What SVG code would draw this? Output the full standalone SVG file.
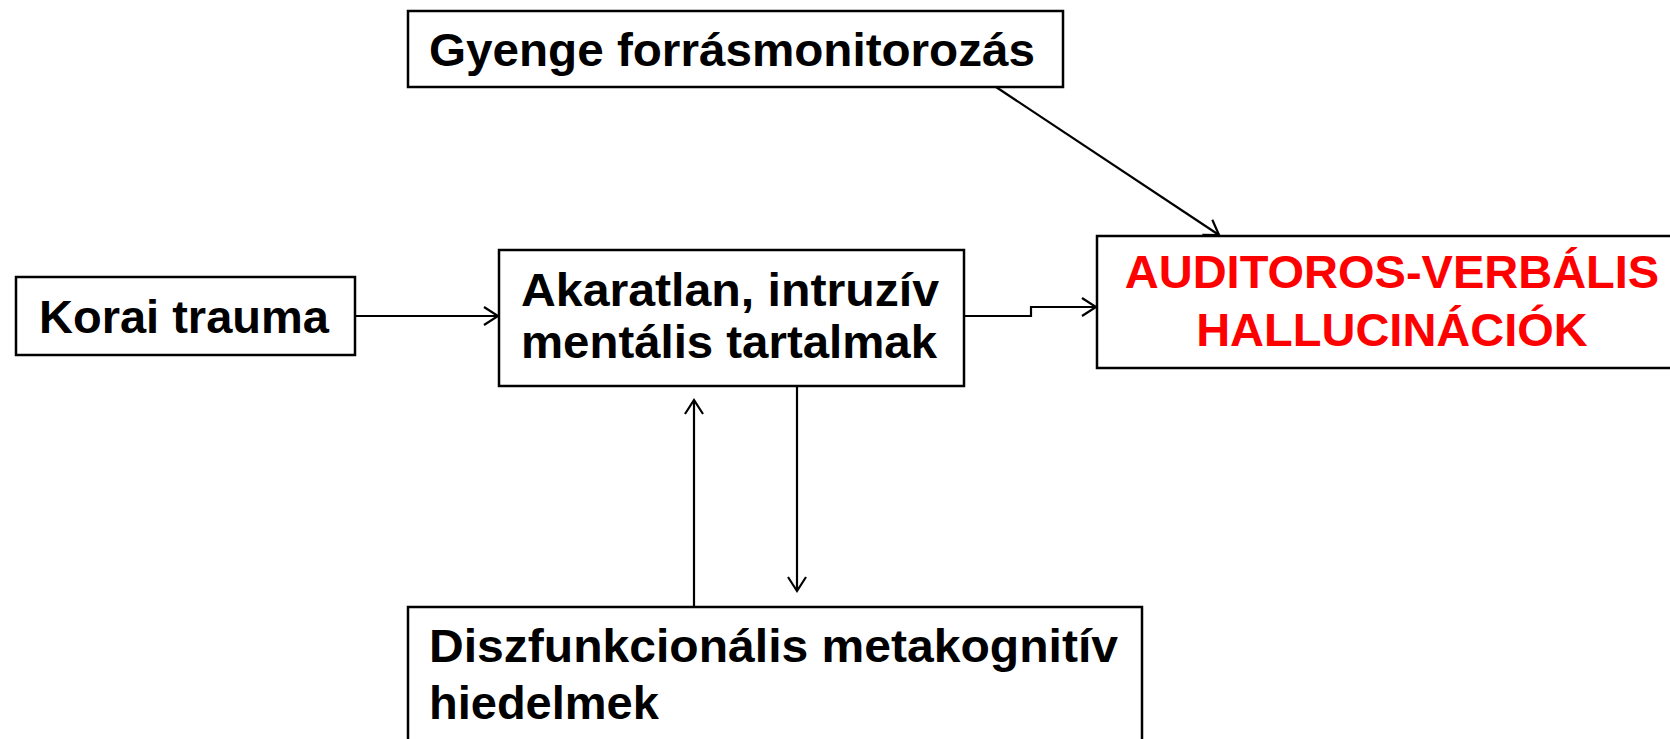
<svg xmlns="http://www.w3.org/2000/svg" width="1670" height="739" viewBox="0 0 1670 739">
<style>
.box{fill:#fff;stroke:#000;stroke-width:2.5}
.t{font-family:"Liberation Sans",Arial,sans-serif;font-weight:bold;font-size:47px;fill:#000}
.red{fill:#ff0000}
.c{fill:none;stroke:#000;stroke-width:2.2}
</style>
<defs>
<marker id="arr" markerUnits="userSpaceOnUse" markerWidth="20" markerHeight="24" refX="16" refY="12" orient="auto">
<path d="M2,3 L16,12 L2,21" fill="none" stroke="#000" stroke-width="2.2"/>
</marker>
</defs>
<rect width="1670" height="739" fill="#fff"/>
<g id="connectors">
<line class="c" x1="355" y1="316" x2="498" y2="316" marker-end="url(#arr)"/>
<polyline class="c" points="964,316 1031,316 1031,307 1096,307" marker-end="url(#arr)"/>
<line class="c" x1="996" y1="87" x2="1219" y2="235" marker-end="url(#arr)"/>
<line class="c" x1="694" y1="607" x2="694" y2="400" marker-end="url(#arr)"/>
<line class="c" x1="797" y1="386" x2="797" y2="591" marker-end="url(#arr)"/>
</g>
<g id="gyenge">
<rect class="box" x="408" y="11" width="655" height="76"/>
<text class="t" x="429" y="66" textLength="606" lengthAdjust="spacingAndGlyphs">Gyenge forrásmonitorozás</text>
</g>
<g id="korai">
<rect class="box" x="16" y="277" width="339" height="78"/>
<text class="t" x="39" y="333">Korai trauma</text>
</g>
<g id="akaratlan">
<rect class="box" x="499" y="250" width="465" height="136"/>
<text class="t" x="521" y="306" textLength="418" lengthAdjust="spacingAndGlyphs">Akaratlan, intruzív</text>
<text class="t" x="521" y="358" textLength="416" lengthAdjust="spacingAndGlyphs">mentális tartalmak</text>
</g>
<g id="avh">
<rect class="box" x="1097" y="236" width="590" height="132"/>
<text class="t red" x="1392" y="288" text-anchor="middle">AUDITOROS-VERBÁLIS</text>
<text class="t red" x="1392" y="346" text-anchor="middle">HALLUCINÁCIÓK</text>
</g>
<g id="diszf">
<rect class="box" x="408" y="607" width="734" height="150"/>
<text class="t" x="429" y="662" textLength="689" lengthAdjust="spacingAndGlyphs">Diszfunkcionális metakognitív</text>
<text class="t" x="429" y="719">hiedelmek</text>
</g>
</svg>
